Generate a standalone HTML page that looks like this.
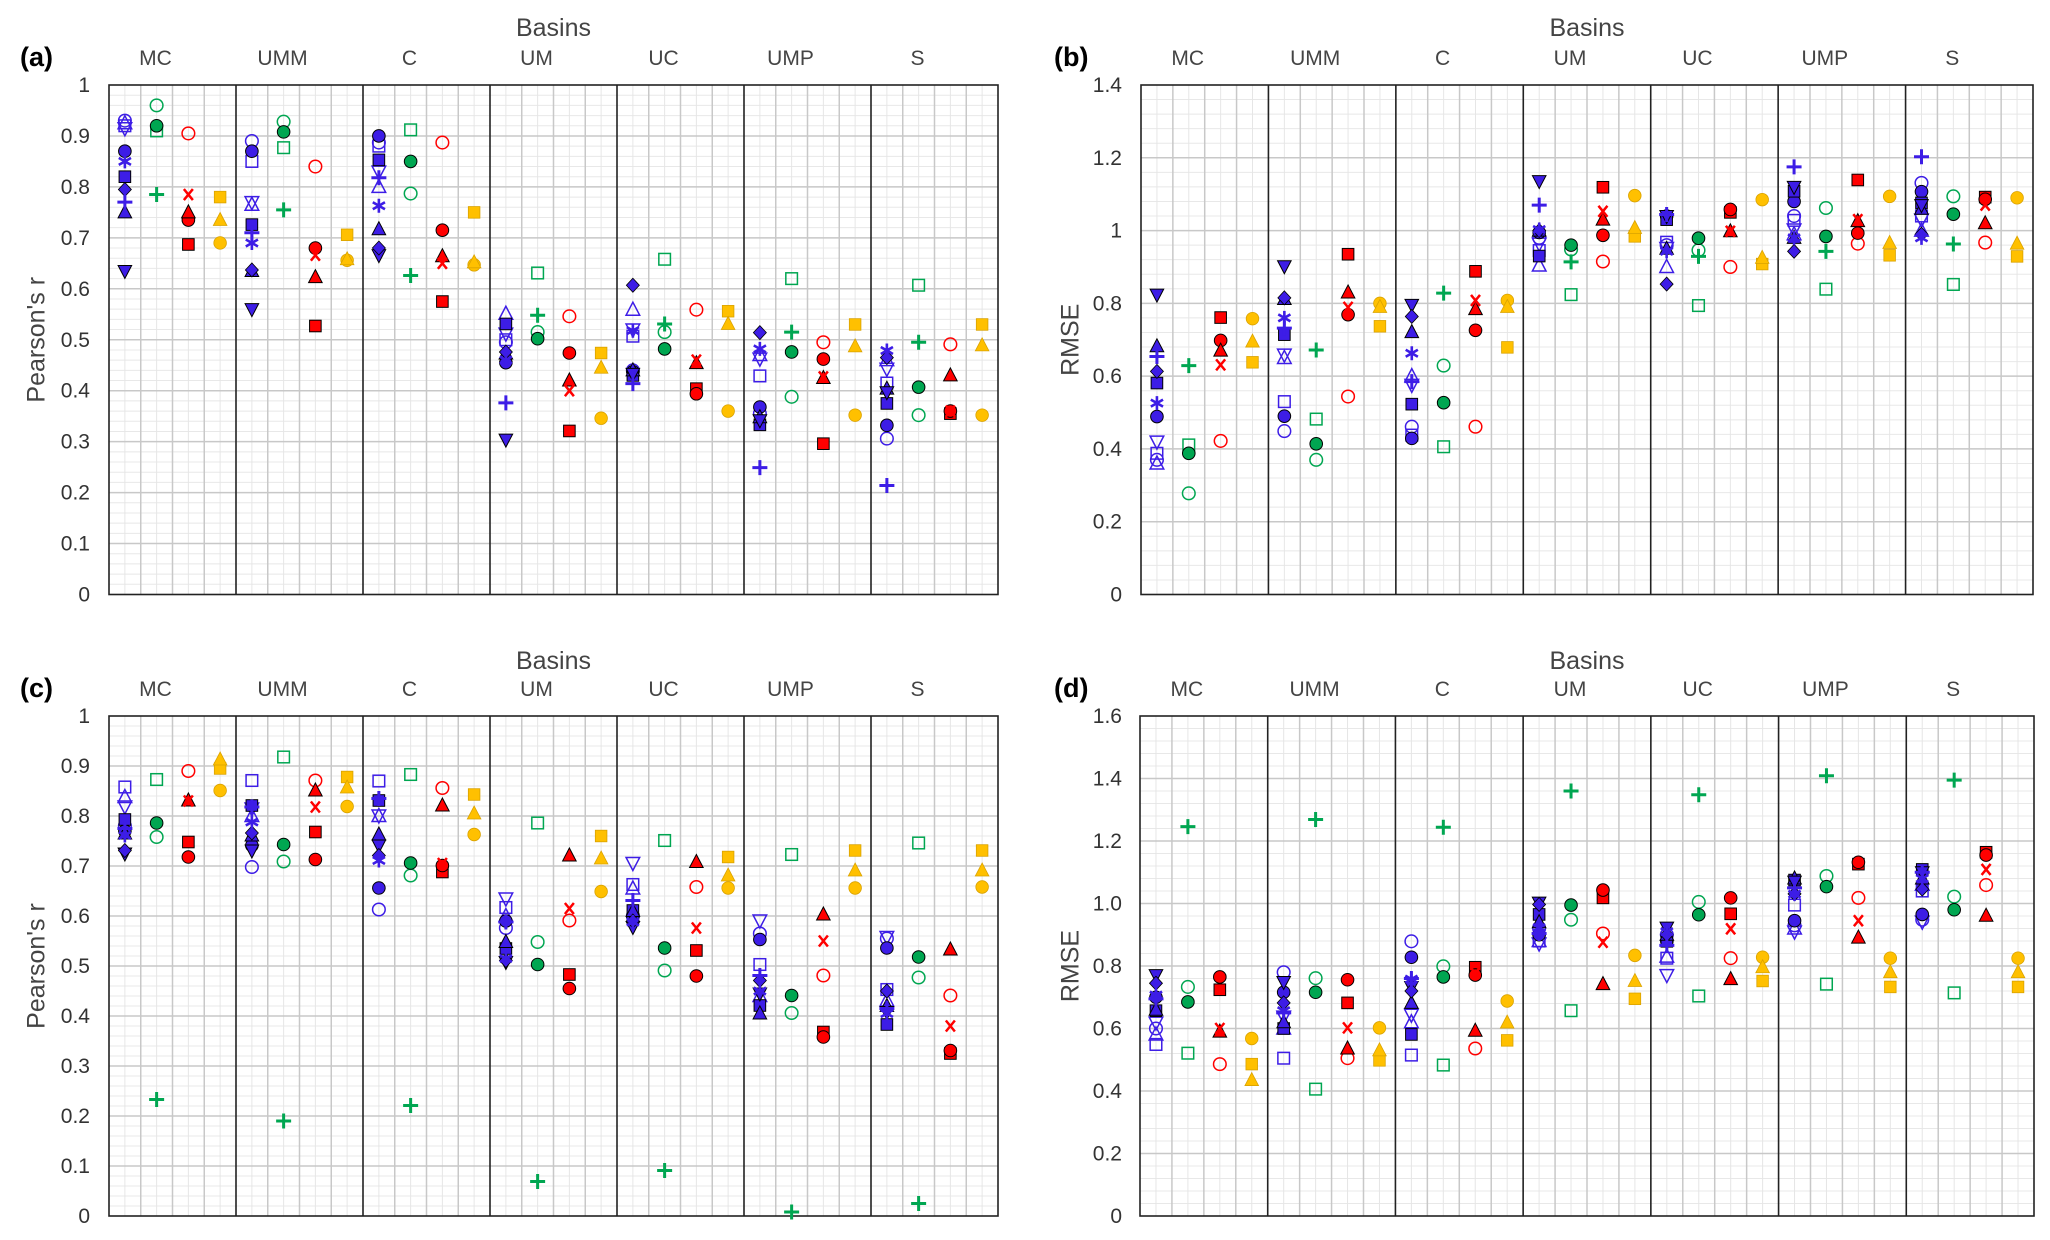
<!DOCTYPE html>
<html><head><meta charset="utf-8"><style>
html,body{margin:0;padding:0;background:#fff;}
svg{display:block;font-family:"Liberation Sans",sans-serif;}
</style></head><body>
<svg id="fig" width="2050" height="1240" viewBox="0 0 2050 1240" xmlns="http://www.w3.org/2000/svg"></svg>
<script>
const basins=["MC","UMM","C","UM","UC","UMP","S"];
// Panel (a) Pearson's r
const A_bCirc=[0.87,0.87,0.90,0.455,0.437,0.368,0.332];
const A_bOCirc=[0.93,0.89,0.887,0.495,0.44,0.355,0.306];
const A_bSq=[0.82,0.726,0.853,0.531,0.43,0.333,0.375];
const A_bOSq=[0.92,0.85,0.88,0.50,0.507,0.429,0.415];
const A_bTri=[0.75,0.635,0.717,0.473,0.44,0.348,0.404];
const A_bOTri=[0.925,0.765,0.80,0.551,0.559,0.47,0.46];
const A_bDTri=[0.635,0.56,0.666,0.304,0.433,0.342,0.397];
const A_bODTri=[0.915,0.77,0.83,0.512,0.52,0.463,0.443];
const A_bDia=[0.795,0.637,0.68,0.476,0.607,0.514,0.465];
const A_bAst=[0.85,0.69,0.763,0.46,0.518,0.482,0.479];
const A_bPlus=[0.77,0.71,0.818,0.376,0.414,0.249,0.214];
const A_gCirc=[0.92,0.908,0.85,0.502,0.482,0.476,0.407];
const A_gOCirc=[0.96,0.928,0.787,0.515,0.515,0.388,0.352];
const A_gOSq=[0.91,0.877,0.912,0.631,0.658,0.62,0.607];
const A_gPlus=[0.785,0.755,0.626,0.548,0.531,0.515,0.495];
const A_rCirc=[0.735,0.68,0.715,0.474,0.394,0.462,0.36];
const A_rOCirc=[0.905,0.84,0.887,0.546,0.559,0.495,0.491];
const A_rSq=[0.687,0.527,0.575,0.321,0.404,0.296,0.355];
const A_rTri=[0.75,0.623,0.664,0.42,0.454,0.425,0.43];
const A_rX=[0.785,0.666,0.65,0.40,0.46,0.427,0.36];
const A_oCirc=[0.69,0.656,0.647,0.346,0.36,0.352,0.352];
const A_oSq=[0.78,0.706,0.75,0.474,0.556,0.53,0.53];
const A_oTri=[0.735,0.658,0.652,0.445,0.531,0.487,0.489];
// Panel (b) RMSE
const B_bCirc=[0.489,0.49,0.429,0.995,1.04,1.08,1.107];
const B_bOCirc=[0.37,0.449,0.461,0.98,0.96,1.04,1.131];
const B_bSq=[0.581,0.714,0.523,0.93,1.03,1.108,1.076];
const B_bOSq=[0.388,0.53,0.438,0.945,0.968,1.028,1.04];
const B_bTri=[0.682,0.812,0.721,1.0,0.95,0.98,1.06];
const B_bOTri=[0.36,0.65,0.6,0.904,0.9,0.99,1.0];
const B_bDTri=[0.824,0.902,0.796,1.136,1.04,1.12,1.07];
const B_bODTri=[0.42,0.659,0.576,0.964,0.952,1.003,1.03];
const B_bDia=[0.613,0.815,0.764,1.0,0.853,0.943,0.99];
const B_bAst=[0.526,0.76,0.663,1.003,0.943,0.98,0.98];
const B_bPlus=[0.654,0.732,0.585,1.07,1.044,1.175,1.203];
const B_gCirc=[0.388,0.414,0.527,0.96,0.979,0.984,1.045];
const B_gOCirc=[0.278,0.37,0.629,0.948,0.946,1.062,1.094];
const B_gOSq=[0.411,0.482,0.406,0.824,0.794,0.839,0.852];
const B_gPlus=[0.629,0.672,0.828,0.914,0.929,0.943,0.963];
const B_rCirc=[0.698,0.769,0.726,0.987,1.058,0.993,1.086];
const B_rOCirc=[0.422,0.544,0.461,0.915,0.9,0.964,0.967];
const B_rSq=[0.761,0.935,0.888,1.119,1.05,1.139,1.092];
const B_rTri=[0.67,0.83,0.784,1.03,0.998,1.026,1.02];
const B_rX=[0.631,0.789,0.808,1.053,0.998,1.03,1.07];
const B_oCirc=[0.758,0.8,0.808,1.096,1.085,1.094,1.09];
const B_oSq=[0.638,0.737,0.679,0.984,0.908,0.932,0.929];
const B_oTri=[0.695,0.79,0.79,1.007,0.925,0.966,0.964];
// Panel (c) Pearson's r
const C_bCirc=[0.77,0.741,0.656,0.59,0.6,0.553,0.536];
const C_bOCirc=[0.78,0.698,0.613,0.576,0.6,0.565,0.555];
const C_bSq=[0.793,0.821,0.831,0.535,0.611,0.421,0.383];
const C_bOSq=[0.858,0.871,0.87,0.617,0.663,0.503,0.453];
const C_bTri=[0.765,0.761,0.763,0.548,0.61,0.405,0.42];
const C_bOTri=[0.838,0.8,0.8,0.6,0.655,0.44,0.431];
const C_bDTri=[0.725,0.731,0.741,0.508,0.578,0.445,0.408];
const C_bODTri=[0.819,0.815,0.801,0.635,0.706,0.591,0.558];
const C_bDia=[0.731,0.766,0.721,0.511,0.59,0.471,0.45];
const C_bAst=[0.761,0.788,0.711,0.515,0.588,0.45,0.405];
const C_bPlus=[0.775,0.818,0.835,0.588,0.631,0.481,0.415];
const C_gCirc=[0.786,0.743,0.706,0.503,0.536,0.441,0.518];
const C_gOCirc=[0.758,0.709,0.681,0.548,0.491,0.406,0.477];
const C_gOSq=[0.873,0.918,0.883,0.786,0.751,0.723,0.746];
const C_gPlus=[0.233,0.19,0.221,0.069,0.091,0.008,0.025];
const C_rCirc=[0.718,0.713,0.701,0.455,0.48,0.358,0.331];
const C_rOCirc=[0.89,0.871,0.856,0.591,0.658,0.481,0.441];
const C_rSq=[0.748,0.768,0.688,0.483,0.531,0.368,0.325];
const C_rTri=[0.831,0.851,0.821,0.721,0.708,0.603,0.533];
const C_rX=[0.83,0.818,0.705,0.615,0.576,0.55,0.38];
const C_oCirc=[0.851,0.819,0.763,0.649,0.656,0.656,0.658];
const C_oSq=[0.895,0.878,0.843,0.76,0.718,0.731,0.731];
const C_oTri=[0.913,0.857,0.805,0.715,0.681,0.691,0.691];
// Panel (d) RMSE
const D_bCirc=[0.7,0.716,0.828,0.9,0.88,0.945,0.965];
const D_bOCirc=[0.6,0.78,0.879,0.92,0.9,0.93,0.948];
const D_bSq=[0.657,0.6,0.581,0.965,0.879,1.075,1.109];
const D_bOSq=[0.549,0.505,0.515,0.88,0.825,0.995,1.04];
const D_bTri=[0.66,0.62,0.682,0.94,0.9,1.08,1.08];
const D_bOTri=[0.581,0.6,0.62,0.88,0.83,0.92,1.06];
const D_bDTri=[0.771,0.749,0.733,1.003,0.923,1.07,1.1];
const D_bODTri=[0.619,0.638,0.644,0.872,0.771,0.91,0.942];
const D_bDia=[0.745,0.682,0.72,0.997,0.9,1.031,1.046];
const D_bAst=[0.707,0.657,0.758,0.923,0.91,1.03,1.08];
const D_bPlus=[0.695,0.65,0.76,0.904,0.866,1.05,1.1];
const D_gCirc=[0.685,0.716,0.765,0.995,0.964,1.054,0.98];
const D_gOCirc=[0.733,0.761,0.799,0.948,1.005,1.088,1.022];
const D_gOSq=[0.521,0.406,0.483,0.657,0.704,0.742,0.714];
const D_gPlus=[1.246,1.269,1.244,1.36,1.348,1.409,1.395];
const D_rCirc=[0.765,0.756,0.771,1.043,1.018,1.132,1.155];
const D_rOCirc=[0.486,0.505,0.536,0.904,0.825,1.018,1.059];
const D_rSq=[0.724,0.682,0.796,1.018,0.967,1.126,1.164];
const D_rTri=[0.59,0.536,0.593,0.742,0.758,0.891,0.961];
const D_rX=[0.6,0.602,0.777,0.876,0.919,0.945,1.109];
const D_oCirc=[0.568,0.602,0.688,0.834,0.828,0.825,0.825];
const D_oSq=[0.486,0.498,0.562,0.695,0.752,0.733,0.733];
const D_oTri=[0.435,0.53,0.619,0.752,0.796,0.78,0.78];

const tickA=["0","0.1","0.2","0.3","0.4","0.5","0.6","0.7","0.8","0.9","1"];
const tickB=["0","0.2","0.4","0.6","0.8","1","1.2","1.4"];
const tickD=["0","0.2","0.4","0.6","0.8","1.0","1.2","1.4","1.6"];

const BLUE="#3d1de6",GREEN="#00a651",RED="#ff0000",ORANGE="#ffc000";
const SERIES=[
 ["bOCirc","circle",false,BLUE,0],["bOSq","square",false,BLUE,0],["bOTri","tri",false,BLUE,0],["bODTri","dtri",false,BLUE,0],
 ["bCirc","circle",true,BLUE,0],["bSq","square",true,BLUE,0],["bTri","tri",true,BLUE,0],["bDTri","dtri",true,BLUE,0],
 ["bDia","diamond",true,BLUE,0],["bAst","ast",true,BLUE,0],["bPlus","plus",true,BLUE,0],
 ["gOCirc","circle",false,GREEN,1],["gOSq","square",false,GREEN,1],["gCirc","circle",true,GREEN,1],["gPlus","plus",true,GREEN,1],
 ["rOCirc","circle",false,RED,2],["rSq","square",true,RED,2],["rCirc","circle",true,RED,2],["rTri","tri",true,RED,2],["rX","x",true,RED,2],
 ["oCirc","circle",true,ORANGE,3],["oSq","square",true,ORANGE,3],["oTri","tri",true,ORANGE,3]
];
const DATA={
 a:{bCirc:A_bCirc,bOCirc:A_bOCirc,bSq:A_bSq,bOSq:A_bOSq,bTri:A_bTri,bOTri:A_bOTri,bDTri:A_bDTri,bODTri:A_bODTri,bDia:A_bDia,bAst:A_bAst,bPlus:A_bPlus,gCirc:A_gCirc,gOCirc:A_gOCirc,gOSq:A_gOSq,gPlus:A_gPlus,rCirc:A_rCirc,rOCirc:A_rOCirc,rSq:A_rSq,rTri:A_rTri,rX:A_rX,oCirc:A_oCirc,oSq:A_oSq,oTri:A_oTri},
 b:{bCirc:B_bCirc,bOCirc:B_bOCirc,bSq:B_bSq,bOSq:B_bOSq,bTri:B_bTri,bOTri:B_bOTri,bDTri:B_bDTri,bODTri:B_bODTri,bDia:B_bDia,bAst:B_bAst,bPlus:B_bPlus,gCirc:B_gCirc,gOCirc:B_gOCirc,gOSq:B_gOSq,gPlus:B_gPlus,rCirc:B_rCirc,rOCirc:B_rOCirc,rSq:B_rSq,rTri:B_rTri,rX:B_rX,oCirc:B_oCirc,oSq:B_oSq,oTri:B_oTri},
 c:{bCirc:C_bCirc,bOCirc:C_bOCirc,bSq:C_bSq,bOSq:C_bOSq,bTri:C_bTri,bOTri:C_bOTri,bDTri:C_bDTri,bODTri:C_bODTri,bDia:C_bDia,bAst:C_bAst,bPlus:C_bPlus,gCirc:C_gCirc,gOCirc:C_gOCirc,gOSq:C_gOSq,gPlus:C_gPlus,rCirc:C_rCirc,rOCirc:C_rOCirc,rSq:C_rSq,rTri:C_rTri,rX:C_rX,oCirc:C_oCirc,oSq:C_oSq,oTri:C_oTri},
 d:{bCirc:D_bCirc,bOCirc:D_bOCirc,bSq:D_bSq,bOSq:D_bOSq,bTri:D_bTri,bOTri:D_bOTri,bDTri:D_bDTri,bODTri:D_bODTri,bDia:D_bDia,bAst:D_bAst,bPlus:D_bPlus,gCirc:D_gCirc,gOCirc:D_gOCirc,gOSq:D_gOSq,gPlus:D_gPlus,rCirc:D_rCirc,rOCirc:D_rOCirc,rSq:D_rSq,rTri:D_rTri,rX:D_rX,oCirc:D_oCirc,oSq:D_oSq,oTri:D_oTri}
};
const PANELS=[
 {id:"a",x0:109,x1:998,y0:85,y1:594.5,vmax:1,major:0.1,minor:0.02,ticks:tickA,title:"Pearson's r",lx:20,tx:90,ytx:38,by:27,bl:57},
 {id:"b",x0:1141,x1:2033,y0:85,y1:594.5,vmax:1.4,major:0.2,minor:0.04,ticks:tickB,title:"RMSE",lx:1054,tx:1122,ytx:1072,by:27,bl:57},
 {id:"c",x0:109,x1:998,y0:716,y1:1216,vmax:1,major:0.1,minor:0.02,ticks:tickA,title:"Pearson's r",lx:20,tx:90,ytx:38,by:660,bl:688},
 {id:"d",x0:1140,x1:2034,y0:716,y1:1216,vmax:1.6,major:0.2,minor:0.04,ticks:tickD,title:"RMSE",lx:1054,tx:1122,ytx:1072,by:660,bl:688}
];
const NS="http://www.w3.org/2000/svg";
const fig=document.getElementById("fig");
function mk(tag,attrs,parent){const e=document.createElementNS(NS,tag);for(const k in attrs)e.setAttribute(k,attrs[k]);(parent||fig).appendChild(e);return e;}

function marker(g,shape,filled,color,cx,cy){
  let e;
  const fill=filled?color:"none";
  const stroke=filled?(color===ORANGE?"#d9a200":"#000"):color;
  const sw=filled?(color===ORANGE?0.8:1):1.5;
  if(shape==="circle"){e=mk("circle",{cx:cx,cy:cy,r:6.3,fill:fill,stroke:stroke,"stroke-width":sw},g);}
  else if(shape==="square"){e=mk("rect",{x:cx-5.8,y:cy-5.8,width:11.6,height:11.6,fill:fill,stroke:stroke,"stroke-width":sw},g);}
  else if(shape==="tri"){e=mk("polygon",{points:`${cx},${cy-7.5} ${cx-6.8},${cy+5.5} ${cx+6.8},${cy+5.5}`,fill:fill,stroke:stroke,"stroke-width":sw},g);}
  else if(shape==="dtri"){e=mk("polygon",{points:`${cx},${cy+7.5} ${cx-6.8},${cy-5.5} ${cx+6.8},${cy-5.5}`,fill:fill,stroke:stroke,"stroke-width":sw},g);}
  else if(shape==="diamond"){e=mk("polygon",{points:`${cx},${cy-7} ${cx+6.5},${cy} ${cx},${cy+7} ${cx-6.5},${cy}`,fill:fill,stroke:"#000","stroke-width":0.8},g);}
  else if(shape==="plus"){e=mk("path",{d:`M${cx-7.5},${cy}H${cx+7.5}M${cx},${cy-7.5}V${cy+7.5}`,stroke:color,"stroke-width":3,fill:"none"},g);}
  else if(shape==="x"){e=mk("path",{d:`M${cx-4.5},${cy-5.5}L${cx+4.5},${cy+5.5}M${cx+4.5},${cy-5.5}L${cx-4.5},${cy+5.5}`,stroke:color,"stroke-width":2.5,fill:"none"},g);}
  else if(shape==="ast"){const r=7;e=mk("path",{d:`M${cx},${cy-r}V${cy+r}M${cx-r*0.87},${cy-r/2}L${cx+r*0.87},${cy+r/2}M${cx-r*0.87},${cy+r/2}L${cx+r*0.87},${cy-r/2}`,stroke:color,"stroke-width":2.6,fill:"none"},g);}
  return e;
}

PANELS.forEach(p=>{
  const g=mk("g",{});
  
  
  const bw=(p.x1-p.x0)/basins.length;
  const yS=v=>p.y1-(v/p.vmax)*(p.y1-p.y0);
  const xS=(bi,col)=>p.x0+bw*bi+bw*(col+0.5)/4;
  const nMinor=Math.round(p.vmax/p.minor);
  for(let i=1;i<nMinor;i++){const y=yS(i*p.minor);mk("line",{x1:p.x0,x2:p.x1,y1:y,y2:y,stroke:"#e8e8e8","stroke-width":1},g);}
  for(let b=0;b<basins.length;b++){
    for(let k=1;k<8;k++){const x=p.x0+bw*b+bw*k/8;mk("line",{x1:x,x2:x,y1:p.y0,y2:p.y1,stroke:(k%2===0)?"#c8c8c8":"#e6e6e6","stroke-width":(k%2===0)?1.5:1},g);}
  }
  const nMaj=Math.round(p.vmax/p.major);
  for(let i=1;i<nMaj;i++){const y=yS(i*p.major);mk("line",{x1:p.x0,x2:p.x1,y1:y,y2:y,stroke:"#c8c8c8","stroke-width":1.5},g);}
  for(let b=1;b<basins.length;b++){const x=p.x0+bw*b;const l=mk("line",{x1:x,x2:x,y1:p.y0,y2:p.y1,stroke:"#222","stroke-width":1.6},g);
    
    }
  const fr=mk("rect",{x:p.x0,y:p.y0,width:p.x1-p.x0,height:p.y1-p.y0,fill:"none",stroke:"#222","stroke-width":1.6},g);
  
  
  p.ticks.forEach((t,i)=>{const y=yS(i*p.major);const tx=mk("text",{x:p.tx,y:y+7,"text-anchor":"end","font-size":21,fill:"#333"},g);tx.textContent=t;
    
    });
  const cy=(p.y0+p.y1)/2;
  const yt=mk("text",{x:p.ytx,y:cy,"text-anchor":"middle","font-size":25,fill:"#444",transform:`rotate(-90 ${p.ytx} ${cy})`,"dominant-baseline":"middle"},g);
  yt.textContent=p.title;
  
  
  const bt=mk("text",{x:(p.x0+p.x1)/2,y:p.by+9,"text-anchor":"middle","font-size":25,fill:"#444"},g);
  bt.textContent="Basins";
  
  
  basins.forEach((b,i)=>{const t=mk("text",{x:p.x0+bw*(i+0.5)-17,y:p.bl+8,"text-anchor":"middle","font-size":21,fill:"#444"},g);t.textContent=b;
    
    });
  const pl=mk("text",{x:p.lx,y:p.bl+9,"font-size":27,"font-weight":"bold",fill:"#000"},g);
  pl.textContent="("+p.id+")";
  
  
  const data=DATA[p.id];
  SERIES.forEach(s=>{
    const arr=data[s[0]];
    arr.forEach((v,bi)=>{
      const m=marker(g,s[1],s[2],s[3],xS(bi,s[4]),yS(v));
      
      
    });
  });
});
</script>
</body></html>
